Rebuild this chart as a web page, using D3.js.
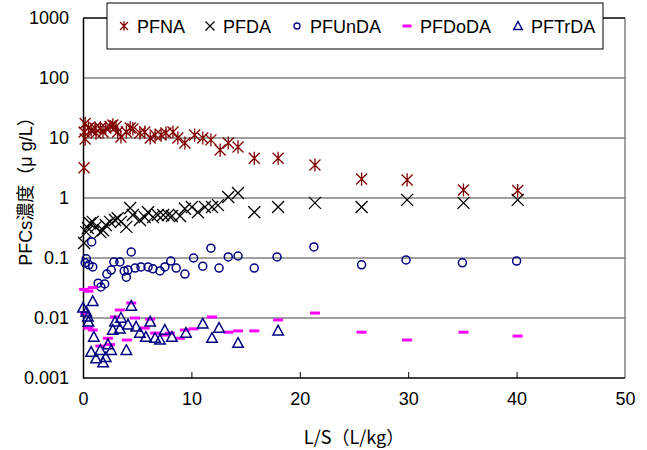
<!DOCTYPE html>
<html>
 <head>
  <title>PFCs L/S</title>
  <style>
  body { margin: 0; background: white; }
  svg { display: block; font-family: "Liberation Sans", Arial, sans-serif; }
  </style>
  <script src="https://cdnjs.cloudflare.com/ajax/libs/d3/7.8.3/d3.min.js"></script>
 </head>
 <body>
  <script>
   // [L/S (L/kg), concentration (ug/L)]
   const pfna = [[0.1,3.2],[0.1,12.6],[0.2,9.6],[0.2,17.5],[0.5,14.7],[0.75,13.6],[1.1,14.7],[1.2,12.1],[1.6,14.7],[1.85,12.6],
                 [2.1,14.7],[2.5,15.5],[2.75,16.5],[3.05,15.5],[3.2,12.6],[3.5,10.4],[4.0,12.6],[4.35,14.7],[4.6,14.2],[5.25,12.1],
                 [5.7,12.6],[6.2,10],[6.65,11.2],[7.2,11.2],[7.65,12.1],[8.3,12.6],[8.75,10],[9.4,8.25],[10.3,11.2],[11.05,10],
                 [11.8,9.3],[12.65,6.3],[13.4,8.25],[14.3,7.1],[15.8,4.6],[18.0,4.6],[21.4,3.55],[25.7,2.07],[29.9,2.0],[35.1,1.36],[40.1,1.33]];
   const pfda = [[0.1,0.178],[0.3,0.27],[0.45,0.316],[0.65,0.38],[0.9,0.40],[1.2,0.33],[1.6,0.27],[1.85,0.29],[2.1,0.355],[2.5,0.40],
                 [2.95,0.43],[3.2,0.46],[3.5,0.40],[4.0,0.33],[4.35,0.68],[4.6,0.52],[5.25,0.43],[5.7,0.48],[6.0,0.58],[6.45,0.48],
                 [6.9,0.52],[7.4,0.52],[7.85,0.52],[8.2,0.50],[8.95,0.50],[9.4,0.66],[10.05,0.71],[10.6,0.58],[11.25,0.71],[11.9,0.71],
                 [12.45,0.76],[13.4,1.04],[14.3,1.21],[15.8,0.58],[18.0,0.71],[21.4,0.83],[25.7,0.71],[29.9,0.93],[35.1,0.83],[40.1,0.93]];
   const pfunda = [[0.2,0.083],[0.3,0.097],[0.55,0.077],[0.8,0.185],[0.9,0.071],[1.4,0.038],[1.65,0.033],[2.0,0.037],[2.2,0.054],[2.6,0.063],
                   [2.85,0.086],[3.4,0.086],[3.8,0.061],[4.0,0.048],[4.15,0.063],[4.45,0.126],[4.8,0.068],[5.35,0.071],[6.0,0.071],[6.45,0.066],
                   [7.1,0.061],[7.55,0.071],[8.1,0.089],[8.6,0.068],[9.4,0.054],[10.2,0.1],[11.05,0.073],[11.8,0.146],[12.55,0.068],[13.4,0.104],
                   [14.3,0.108],[15.8,0.068],[17.9,0.104],[21.3,0.153],[25.7,0.077],[29.8,0.093],[35.0,0.083],[40.0,0.089]];
   const pfdoda = [[0.1,0.030],[0.5,0.028],[0.9,0.032],[0.2,0.0121],[0.5,0.0068],[0.9,0.0063],[1.6,0.0034],[2.3,0.0046],[2.5,0.0036],[2.95,0.0104],
                   [3.4,0.0136],[4.05,0.0043],[4.45,0.0178],[4.8,0.01],[5.7,0.0068],[6.2,0.0096],[6.65,0.0056],[7.55,0.0052],[8.0,0.0056],[8.95,0.0046],
                   [9.4,0.0063],[10.2,0.0066],[11.9,0.0104],[13.4,0.0058],[14.3,0.0061],[15.8,0.0061],[18.0,0.0093],[21.4,0.0121],[25.7,0.0058],
                   [29.9,0.0043],[35.1,0.0058],[40.1,0.005]];
   const pftrda = [[0.0,0.0147],[0.3,0.0126],[0.45,0.0104],[0.5,0.0086],[0.9,0.019],[1.0,0.0048],[0.75,0.0027],[1.6,0.0029],[1.2,0.0021],[1.85,0.0018],
                   [2.1,0.0022],[2.3,0.0036],[2.6,0.0029],[2.75,0.0063],[2.95,0.0086],[3.4,0.0066],[3.5,0.01],[4.0,0.0029],[4.15,0.0077],[4.45,0.0158],
                   [4.9,0.0071],[5.25,0.0056],[5.8,0.0048],[6.2,0.0086],[6.65,0.0046],[7.1,0.0043],[7.55,0.0063],[8.2,0.0048],[9.5,0.0056],[11.05,0.008],
                   [11.9,0.0046],[12.55,0.0068],[14.3,0.0038],[18.0,0.0061]];

   const xTicks = [0, 10, 20, 30, 40, 50];
   const yTicks = [0.001, 0.01, 0.1, 1, 10, 100, 1000];
   const names = ["PFNA", "PFDA", "PFUnDA", "PFDoDA", "PFTrDA"];

   const w = 647, h = 450;
   const padL = 83, padR = 625, padT = 18, padB = 378;

   const x = d3.scaleLinear().domain([0, 50]).range([padL, padR]);
   const y = d3.scaleLog().domain([0.001, 1000]).range([padB, padT]);

   const svg = d3.select("body").append("svg")
                 .attr("width", w)
                 .attr("height", h);

   // gridlines
   svg.append("g")
      .selectAll("line")
      .data(yTicks.slice(1, -1))
      .enter()
      .append("line")
      .attr("x1", padL).attr("x2", padR)
      .attr("y1", d => y(d)).attr("y2", d => y(d))
      .attr("stroke", "#808080")
      .attr("stroke-width", 1.5);

   svg.append("line")
      .attr("x1", padR).attr("x2", padR)
      .attr("y1", padT).attr("y2", padB)
      .attr("stroke", "#808080").attr("stroke-width", 1.5);
   svg.append("line")
      .attr("x1", padL).attr("x2", padR)
      .attr("y1", padT).attr("y2", padT)
      .attr("stroke", "#000").attr("stroke-width", 1.5);

   const xAxis = d3.axisBottom(x).tickValues(xTicks).tickSize(-6).tickPadding(14);
   svg.append("g")
      .attr("transform", "translate(0," + padB + ")")
      .call(xAxis)
      .call(g => g.select(".domain").attr("stroke-width", 1.5).attr("d", "M" + padL + ",0H" + padR))
      .call(g => g.selectAll(".tick line").filter(d => d === 0 || d === 50).remove())
      .call(g => g.selectAll("text").attr("font-size", 18).attr("font-family", "Liberation Sans, Arial").attr("fill", "#000"));

   const yAxis = d3.axisLeft(y).tickValues(yTicks).tickSize(0).tickPadding(14)
                   .tickFormat(d => d >= 1 ? d3.format("d")(d) : String(d));
   svg.append("g")
      .attr("transform", "translate(" + padL + ",0)")
      .call(yAxis)
      .call(g => g.select(".domain").attr("stroke-width", 1.5))
      .call(g => g.selectAll("text").attr("font-size", 18).attr("font-family", "Liberation Sans, Arial").attr("fill", "#000"));

   svg.append("text")
      .attr("x", (padL + padR) / 2)
      .attr("y", 444)
      .attr("text-anchor", "middle")
      .attr("font-size", 18)
      .attr("font-family", "Noto Sans CJK JP")
      .text("L/S（L/kg）");

   svg.append("text")
      .attr("transform", "translate(32,187) rotate(-90)")
      .attr("text-anchor", "middle")
      .attr("font-size", 18)
      .attr("font-family", "Liberation Sans, Noto Sans CJK JP")
      .text("PFCs濃度（μ g/L）");

   // marker shapes
   const asterisk = s => "M" + -s + "," + -s + "L" + s + "," + s + "M" + -s + "," + s + "L" + s + "," + -s + "M0," + -s * 1.2 + "L0," + s * 1.2;
   const cross = s => "M" + -s + "," + -s + "L" + s + "," + s + "M" + -s + "," + s + "L" + s + "," + -s;
   const dash = s => "M" + -s + ",0L" + s + ",0";
   const tri = s => "M0," + -s + "L" + s * 0.95 + "," + s * 0.75 + "L" + -s * 0.95 + "," + s * 0.75 + "Z";

   const series = [
    {name: names[0], data: pfna, path: asterisk, size: 5.5, lsize: 4, color: "#800000", sw: 1.3, fill: "none"},
    {name: names[1], data: pfda, path: cross, size: 6, lsize: 4.5, color: "#000", sw: 1.3, fill: "none"},
    {name: names[2], data: pfunda, path: null, size: 4, lsize: 3, color: "#000080", sw: 1.5, fill: "white"},
    {name: names[3], data: pfdoda, path: dash, size: 5, lsize: 4.5, color: "#ff00ff", sw: 3, fill: "none"},
    {name: names[4], data: pftrda, path: tri, size: 5.5, lsize: 4.5, color: "#000080", sw: 1.5, fill: "none"}
   ];

   const plot = svg.append("g");
   series.forEach(s => {
    const g = plot.append("g");
    if (s.path === null) {
     g.selectAll("circle")
      .data(s.data)
      .enter()
      .append("circle")
      .attr("cx", d => x(d[0]))
      .attr("cy", d => y(d[1]))
      .attr("r", s.size)
      .attr("fill", "none")
      .attr("stroke", s.color)
      .attr("stroke-width", s.sw);
    } else {
     g.selectAll("path")
      .data(s.data)
      .enter()
      .append("path")
      .attr("transform", d => "translate(" + x(d[0]) + "," + y(d[1]) + ")")
      .attr("d", s.path(s.size))
      .attr("fill", s.fill)
      .attr("stroke", s.color)
      .attr("stroke-width", s.sw);
    }
   });

   // legend
   const legend = svg.append("g").attr("id", "legend");
   legend.append("rect")
         .attr("x", 107).attr("y", 3)
         .attr("width", 496).attr("height", 46)
         .attr("fill", "white")
         .attr("stroke", "#000")
         .attr("stroke-width", 1);
   const legX = [124, 210, 297, 407, 518];
   series.forEach((s, i) => {
    if (s.path === null) {
     legend.append("circle")
           .attr("cx", legX[i]).attr("cy", 26)
           .attr("r", s.lsize)
           .attr("fill", "none").attr("stroke", s.color).attr("stroke-width", 1.3);
    } else {
     legend.append("path")
           .attr("transform", "translate(" + legX[i] + ",26)")
           .attr("d", s.path(s.lsize))
           .attr("fill", "none").attr("stroke", s.color).attr("stroke-width", s.sw);
    }
    legend.append("text")
          .attr("x", legX[i] + 13)
          .attr("y", 33)
          .attr("font-size", 18)
          .text(s.name);
   });
  </script>
 </body>
</html>
